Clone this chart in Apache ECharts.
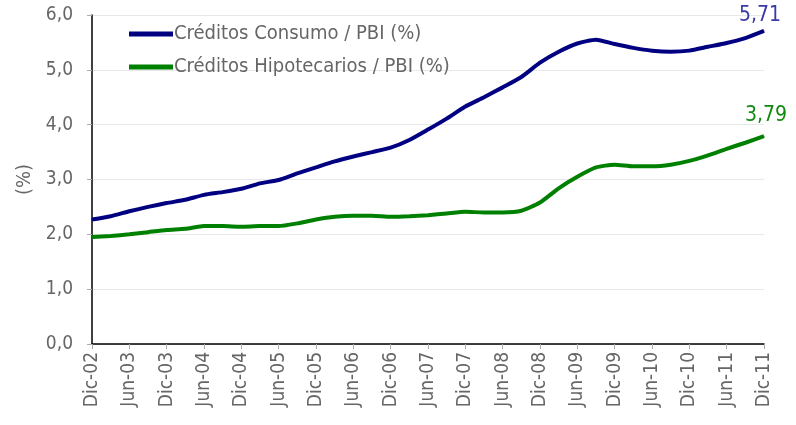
<!DOCTYPE html>
<html>
<head>
<meta charset="utf-8">
<script src="https://cdn.jsdelivr.net/npm/echarts@6/dist/echarts.min.js"></script>
<style>
  html, body { margin: 0; padding: 0; background: #fff; }
  #chart { width: 796px; height: 425px; }
</style>
</head>
<body>
<div id="chart"></div>
<script>
// quarterly points, Dic-02 .. Dic-11
const quarters = [
  "Dic-02", "Mar-03", "Jun-03", "Sep-03", "Dic-03", "Mar-04", "Jun-04", "Sep-04",
  "Dic-04", "Mar-05", "Jun-05", "Sep-05", "Dic-05", "Mar-06", "Jun-06", "Sep-06",
  "Dic-06", "Mar-07", "Jun-07", "Sep-07", "Dic-07", "Mar-08", "Jun-08", "Sep-08",
  "Dic-08", "Mar-09", "Jun-09", "Sep-09", "Dic-09", "Mar-10", "Jun-10", "Sep-10",
  "Dic-10", "Mar-11", "Jun-11", "Sep-11", "Dic-11"
];
const consumo = [
  2.27, 2.33, 2.42, 2.50, 2.57, 2.63, 2.72, 2.77,
  2.83, 2.93, 2.99, 3.11, 3.22, 3.33, 3.42, 3.50,
  3.58, 3.72, 3.91, 4.11, 4.33, 4.50, 4.68, 4.87,
  5.13, 5.33, 5.48, 5.55, 5.47, 5.40, 5.35, 5.33,
  5.35, 5.42, 5.49, 5.58, 5.71
];
const hipotecarios = [
  1.95, 1.97, 2.00, 2.04, 2.08, 2.10, 2.15, 2.15,
  2.14, 2.15, 2.15, 2.20, 2.27, 2.32, 2.34, 2.34,
  2.32, 2.33, 2.35, 2.38, 2.41, 2.40, 2.40, 2.43,
  2.58, 2.84, 3.05, 3.22, 3.27, 3.24, 3.24, 3.27,
  3.34, 3.44, 3.56, 3.67, 3.79
];
const seriesNames = ["Créditos Consumo / PBI (%)", "Créditos Hipotecarios / PBI (%)"];

const FONT = "DejaVu Sans Condensed, Liberation Sans, sans-serif";
const fmt = (v, d) => v.toFixed(d).replace(".", ",");

// put a value label only on the last point
function withEndLabel(arr, color, dist, dx) {
  return arr.map((v, i) => i === arr.length - 1
    ? { value: v, label: { show: true, position: "top", distance: dist, offset: [dx, 0], color: color,
        fontSize: 21, fontFamily: FONT, formatter: p => fmt(p.value, 2) } }
    : v);
}

const chart = echarts.init(document.getElementById("chart"));
chart.setOption({
  animation: false,
  grid: { left: 92, right: 32, top: 15, bottom: 81 },
  legend: {
    orient: "vertical",
    left: 124,
    top: 18,
    itemGap: 11,
    itemWidth: 44,
    itemHeight: 5,
    icon: "rect",
    textStyle: { color: "#666", fontSize: 20, fontFamily: FONT, lineHeight: 22, padding: [0, 0, 0, -4] },
    data: seriesNames
  },
  xAxis: {
    type: "category",
    data: quarters,
    boundaryGap: false,
    axisLine: { lineStyle: { color: "#000", width: 1.5 } },
    axisTick: { interval: 1, length: 5, lineStyle: { color: "#aaa" } },
    axisLabel: { interval: 1, rotate: 90, margin: 8, color: "#666", fontSize: 19, fontFamily: FONT }
  },
  yAxis: {
    type: "value",
    min: 0,
    max: 6,
    interval: 1,
    name: "(%)",
    nameLocation: "middle",
    nameGap: 53,
    nameRotate: 90,
    nameTextStyle: { color: "#666", fontSize: 20, fontFamily: FONT },
    axisLine: { show: true, lineStyle: { color: "#000", width: 1.5 } },
    axisTick: { show: true, length: 5, lineStyle: { color: "#aaa" } },
    axisLabel: { margin: 19, color: "#666", fontSize: 19, fontFamily: FONT, formatter: v => fmt(v, 1) },
    splitLine: { lineStyle: { color: "#e8e8e8" } }
  },
  series: [
    {
      name: seriesNames[0],
      type: "line",
      data: withEndLabel(consumo, "#3a3aa6", 4, -4),
      symbol: "circle",
      symbolSize: 1,
      smooth: 0.2,
      itemStyle: { color: "#000080" },
      lineStyle: { color: "#000080", width: 4 }
    },
    {
      name: seriesNames[1],
      type: "line",
      data: withEndLabel(hipotecarios, "#118a11", 10, 2),
      symbol: "circle",
      symbolSize: 1,
      smooth: 0.2,
      itemStyle: { color: "#008000" },
      lineStyle: { color: "#008000", width: 4 }
    }
  ]
});
</script>
</body>
</html>
